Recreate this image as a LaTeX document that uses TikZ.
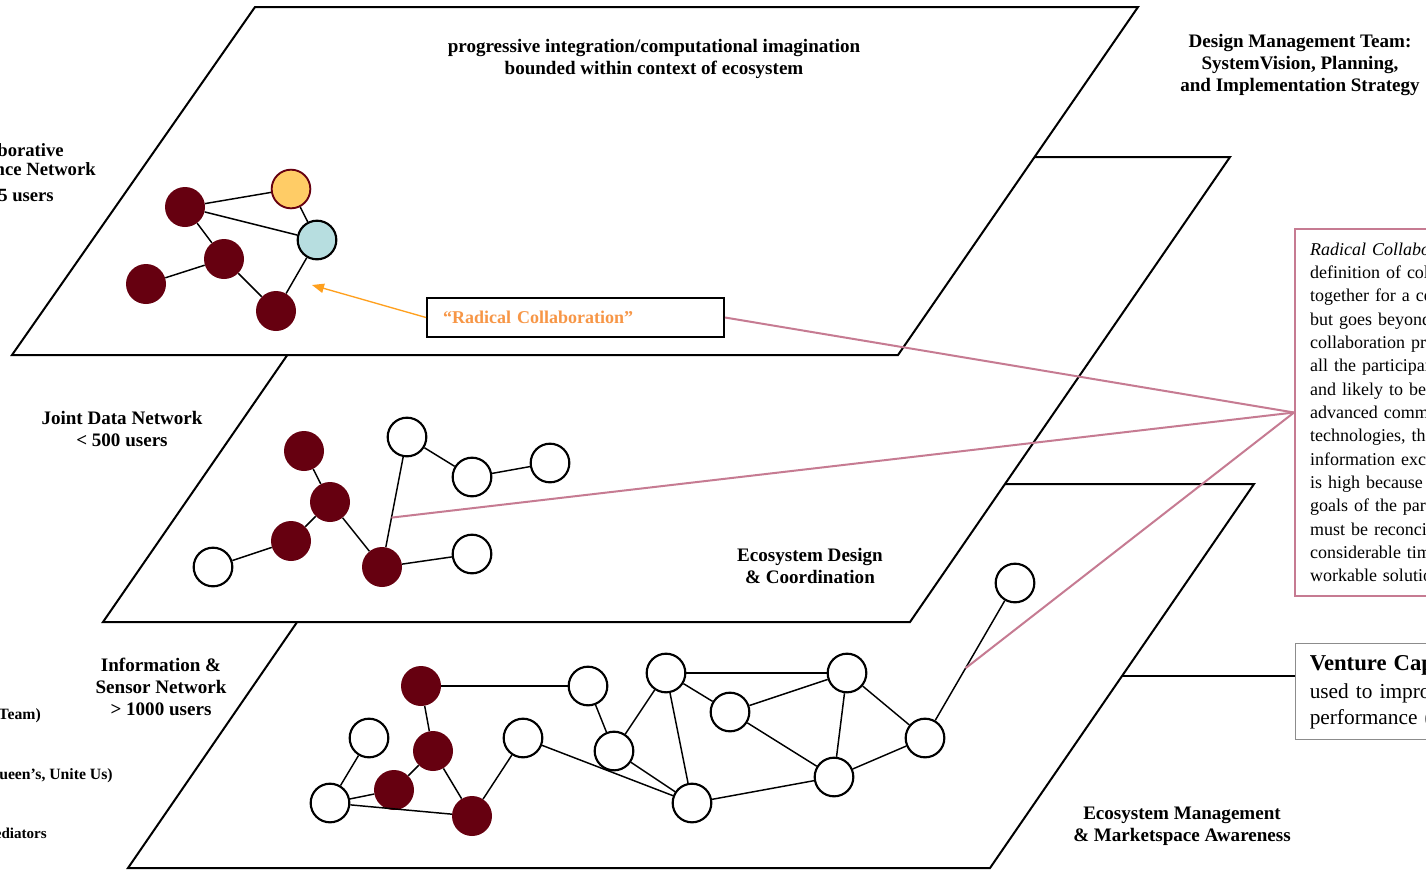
\documentclass[tikz,border=0pt]{standalone}
\usepackage{fontspec}
\setmainfont{Liberation Serif}
\usetikzlibrary{arrows.meta,calc}
\definecolor{dred}{HTML}{660010}
\definecolor{ylw}{HTML}{FFCC66}
\definecolor{cyn}{HTML}{B7DEE0}
\definecolor{pnk}{HTML}{C67B92}
\definecolor{orng}{HTML}{F79646}
\definecolor{arrorng}{HTML}{FFA01E}
\definecolor{gry}{HTML}{8C8C8C}
\begin{document}
\begin{tikzpicture}[x=0.75pt,y=-0.75pt,
  plane/.style={draw=black,fill=white,line width=1.5pt,line join=miter},
  dk/.style={circle,fill=dred,minimum size=30pt,inner sep=0pt},
  wt/.style={circle,draw=black,fill=white,line width=1.6pt,minimum size=29pt,inner sep=0pt},
  lnk/.style={line width=1.1pt,draw=black},
  lbl/.style={font=\fontsize{14.3}{16.5}\selectfont\bfseries,align=center,inner sep=0pt},
  sidelbl/.style={font=\fontsize{14}{16.5}\selectfont\bfseries,anchor=east,inner sep=0pt},
  smalllbl/.style={font=\fontsize{11.8}{13}\selectfont\bfseries,anchor=east,inner sep=0pt},
  pk/.style={draw=pnk,line width=1.5pt}
]
\useasboundingbox (0,0) rectangle (1426,871);
\fill[white] (0,0) rectangle (1426,871);

% ---------- plane 3 (bottom) ----------
\draw[plane] (392,484) -- (1254,484) -- (990,868) -- (128,868) -- cycle;
\node[dk] (B1) at (421,686) {};
\node[wt] (B2) at (588,686) {};
\node[wt] (B3) at (666,673) {};
\node[wt] (B4) at (369,738) {};
\node[dk] (B5) at (433,751) {};
\node[wt] (B6) at (523,738) {};
\node[wt] (B7) at (614,751) {};
\node[wt] (B8) at (730,712) {};
\node[dk] (B9) at (394,790) {};
\node[wt] (B10) at (330,803) {};
\node[dk] (B11) at (472,816) {};
\node[wt] (B12) at (692,803) {};
\node[wt] (B13) at (847,673) {};
\node[wt] (B14) at (925,738) {};
\node[wt] (B15) at (834,777) {};
\node[wt] (B16) at (1015,583) {};
\draw[lnk] (B1) -- (B2);
\draw[lnk] (B1) -- (B5);
\draw[lnk] (B5) -- (B9);
\draw[lnk] (B5) -- (B11);
\draw[lnk] (B4) -- (B10);
\draw[lnk] (B9) -- (B10);
\draw[lnk] (B10) -- (B11);
\draw[lnk] (B11) -- (B6);
\draw[lnk] (B6) -- (B12);
\draw[lnk] (B2) -- (B7);
\draw[lnk] (B7) -- (B3);
\draw[lnk] (B7) -- (B12);
\draw[lnk] (B3) -- (B13);
\draw[lnk] (B3) -- (B8);
\draw[lnk] (B3) -- (B12);
\draw[lnk] (B8) -- (B13);
\draw[lnk] (B8) -- (B15);
\draw[lnk] (B13) -- (B15);
\draw[lnk] (B13) -- (B14);
\draw[lnk] (B15) -- (B14);
\draw[lnk] (B12) -- (B15);
\draw[lnk] (B14) -- (B16);
\coordinate (vs) at (1122,676);

% ---------- plane 2 (middle) ----------
\draw[plane] (424,157) -- (1230,157) -- (910,622) -- (103,622) -- cycle;
\node[dk] (M1) at (304,451) {};
\node[dk] (M2) at (330,502) {};
\node[dk] (M3) at (291,541) {};
\node[wt] (M4) at (213,567) {};
\node[dk] (M5) at (382,567) {};
\node[wt] (W1) at (407,437) {};
\node[wt] (W2) at (472,477) {};
\node[wt] (W3) at (550,463) {};
\node[wt] (W4) at (472,554) {};
\draw[lnk] (M1) -- (M2);
\draw[lnk] (M2) -- (M3);
\draw[lnk] (M3) -- (M4);
\draw[lnk] (M2) -- (M5);
\draw[lnk] (M5) -- (W1);
\draw[lnk] (W1) -- (W2);
\draw[lnk] (W2) -- (W3);
\draw[lnk] (M5) -- (W4);
\node[lbl] (edc) at (810,566) {Ecosystem Design\\\& Coordination};

% ---------- plane 1 (top) ----------
\draw[plane] (255,7) -- (1138,7) -- (898,355) -- (12,355) -- cycle;
\node[dk] (TA) at (185,207) {};
\node[circle,fill=ylw,draw=dred,line width=1.4pt,minimum size=29pt,inner sep=0pt] (TY) at (291,189) {};
\node[circle,fill=cyn,draw=black,line width=1.6pt,minimum size=29pt,inner sep=0pt] (TC) at (317,240) {};
\node[dk] (TD) at (224,259) {};
\node[dk] (TE) at (146,284) {};
\node[dk] (TF) at (276,311) {};
\draw[lnk] (TA) -- (TY);
\draw[lnk] (TA) -- (TC);
\draw[lnk] (TA) -- (TD);
\draw[lnk] (TD) -- (TE);
\draw[lnk] (TD) -- (TF);
\draw[lnk] (TY) -- (TC);
\draw[lnk] (TC) -- (TF);
\node[lbl] (top) at (654,59) {progressive integration/computational imagination\\bounded within context of ecosystem};

% ---------- radical collaboration box ----------
\node[draw=black,line width=1.5pt,fill=white,minimum width=222.75pt,minimum height=29.25pt,
      text width=198.75pt,inner xsep=12pt,inner ysep=0pt,align=left,
      font=\fontsize{13.5}{16}\selectfont\bfseries,text=orng] (rc) at (575.5,317.5) {“Radical Collaboration”};
\coordinate (tip) at (312,285);
\draw[arrorng,line width=1pt,-{Triangle[length=9pt,width=7pt]}] (rc.west) -- (tip);

% ---------- outside labels ----------
\node[lbl] (dmt) at (1300,65) {Design Management Team:\\SystemVision, Planning,\\and Implementation Strategy};
\node[sidelbl] (c1) at (64,150) {Collaborative};
\node[sidelbl] (c2) at (96,171) {Intelligence Network};
\node[sidelbl] (c3) at (54,195) {< 25 users};
\node[lbl] (jdn) at (122,429) {Joint Data Network\\< 500 users};
\node[lbl] (isn) at (161,687) {Information \&\\Sensor Network\\> 1000 users};
\node[lbl] (ema) at (1182,826) {Ecosystem Management\\\& Marketspace Awareness};
\node[smalllbl] (s1) at (41,716) {(Design Team)};
\node[smalllbl] (s2) at (113,776) {(Queen’s, Unite Us)};
\node[smalllbl,font=\fontsize{11.3}{12}\selectfont\bfseries] (s3) at (47,833) {Mediators};

% ---------- right text box ----------
\node[anchor=north west,draw=pnk,line width=1.5pt,fill=white,minimum height=275.25pt,
      text width=320pt,inner xsep=11.25pt,inner ysep=0pt,align=left,
      font=\fontsize{13.5}{17.5}\selectfont] (rb) at (1294,228)
  {\textit{Radical Collaboration} builds on the\\
   definition of collaboration as working\\
   together for a common purpose,\\
   but goes beyond it: the\\
   collaboration process is radical when\\
   all the participants are dispersed\\
   and likely to be using\\
   advanced communication\\
   technologies, the volume of\\
   information exchanged\\
   is high because the\\
   goals of the participants\\
   must be reconciled, which takes\\
   considerable time to find\\
   workable solutions.};

% ---------- venture capital box ----------
\node[anchor=north west,draw=gry,line width=1.1pt,fill=white,minimum height=72pt,
      text width=260pt,inner xsep=10.5pt,inner ysep=0pt,align=left,
      font=\fontsize{16}{19.5}\selectfont] (vc) at (1295,643)
  {{\fontsize{17}{19.5}\selectfont\bfseries Venture Capital}\\[1.5pt]
   used to improve the\\
   performance (ROI)};
\draw[line width=1.1pt] (vs) -- (vs -| vc.west);

% ---------- pink connectors ----------
\coordinate (p2) at ($(M5)!0.38!(W1)$);
\coordinate (p3) at ($(B14)!0.45!(B16)$);
\draw[pk] (rc.east) -- (rb.west);
\draw[pk] (p2) -- (rb.west);
\draw[pk] (p3) -- (rb.west);
\end{tikzpicture}
\end{document}
